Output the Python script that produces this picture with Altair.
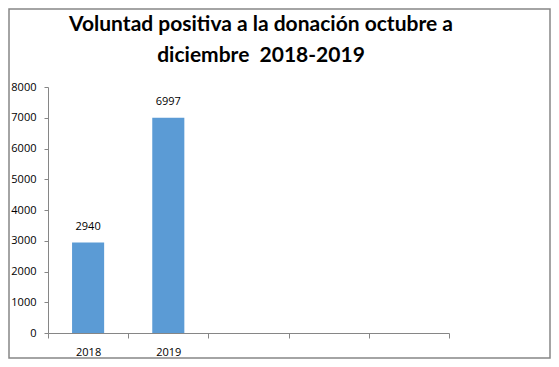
import altair as alt
import pandas as pd

categories = ["2018", "2019", "c3", "c4", "c5"]
years = ["2018", "2019"]
values = [2940, 6997]
y_ticks = [0, 1000, 2000, 3000, 4000, 5000, 6000, 7000, 8000]
title_lines = ["Voluntad positiva a la donación octubre a", "diciembre \u00a02018-2019"]

df = pd.DataFrame({"cat": years, "val": values})

W, H = 401, 246
PL, PT, PR, PB = 40, 79, 102, 26

xscale = alt.Scale(domain=categories, paddingInner=0, paddingOuter=0)
yscale = alt.Scale(domain=[0, 8000])
xaxis = alt.Axis(title=None, labelAngle=0, tickBand="extent", domainColor="#868686",
                 tickColor="#868686", tickSize=5, labelPadding=8, labelFontSize=11,
                 labelColor="#000000", labelFont="Open Sans",
                 labelExpr="indexof(['2018','2019'], datum.value) >= 0 ? datum.value : ''")
yaxis = alt.Axis(title=None, values=y_ticks, grid=False, format="d",
                 labelOverlap=False, domainColor="#868686", tickColor="#868686", tickSize=4,
                 labelFontSize=11, labelColor="#000000", labelFont="Open Sans",
                 labelPadding=8)

bars = alt.Chart(df).mark_bar(color="#5B9BD5", width={"band": 0.4}).encode(
    x=alt.X("cat:N", scale=xscale, sort=categories, axis=xaxis),
    y=alt.Y("val:Q", scale=yscale, axis=yaxis))
labels = alt.Chart(df).mark_text(dy=-16, fontSize=11, font="Open Sans", color="#000000").encode(
    x=alt.X("cat:N", sort=categories, scale=xscale, axis=xaxis),
    y=alt.Y("val:Q", scale=yscale, axis=yaxis), text="val:Q")

frame = alt.Chart(pd.DataFrame({"a": [0]})).mark_rect(fill="white", fillOpacity=0, stroke="#868686", strokeWidth=1.5).encode(
    x=alt.value(-PL + 1), x2=alt.value(W + PR - 1), y=alt.value(-PT + 1), y2=alt.value(H + PB - 1))

title_layers = []
for i, (line, ypos) in enumerate(zip(title_lines, [25, 56])):
    title_layers.append(
        alt.Chart(pd.DataFrame({"t": [line]})).mark_text(
            fontSize=21, font="Lato", fontWeight="bold", color="#000000",
            align="center", baseline="middle").encode(
            text="t:N", x=alt.value(261 - 8 - PL), y=alt.value(ypos - 8 - PT)))

chart = alt.layer(bars, labels, frame, *title_layers).properties(
    width=W, height=H,
    padding={"left": PL, "top": PT, "right": PR, "bottom": PB},
    autosize=alt.AutoSizeParams(type="none"),
).configure_view(stroke=None)

chart.save("out.html", embed_options={"renderer": "svg", "actions": False})
